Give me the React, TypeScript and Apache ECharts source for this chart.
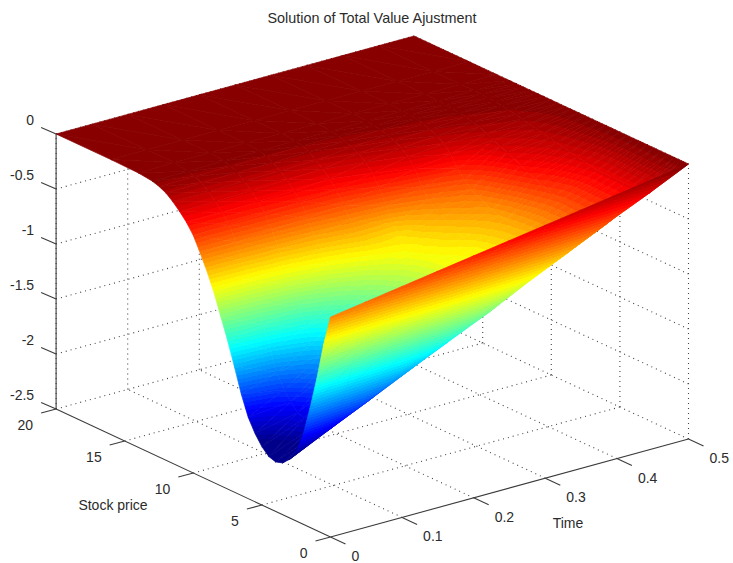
import React, { useEffect, useRef } from "react";
import * as echarts from "echarts";

const titleText = "Solution of Total Value Ajustment";
const stockTicks = [0, 5, 10, 15, 20];
const timeTicks = [0, 0.1, 0.2, 0.3, 0.4, 0.5];
const valueTicks = [0, -0.5, -1, -1.5, -2, -2.5];

const stockGrid = [0, 0.25, 0.5, 0.75, 1, 1.5, 2, 2.5, 3, 3.5, 4, 4.5, 5, 5.5, 6, 6.5, 7, 7.5, 8, 8.5, 9, 9.5, 10, 10.5, 11, 11.5, 12, 12.5, 13, 14, 16, 20];
const timeGrid = [0, 0.05, 0.1, 0.15, 0.2, 0.25, 0.3, 0.35, 0.4, 0.45, 0.5];

const atT000 = [-0.5, -0.64, -0.78, -0.95, -1.12, -1.42, -1.69, -1.87, -1.97, -2.03, -2.05, -2.03, -1.97, -1.88, -1.76, -1.58, -1.36, -1.15, -0.96, -0.77, -0.61, -0.47, -0.34, -0.25, -0.18, -0.12, -0.07, -0.04, -0.02, -0.005, 0, 0];
const atT005 = [-0.45, -0.59, -0.74, -0.91, -1.07, -1.36, -1.59, -1.74, -1.81, -1.84, -1.83, -1.77, -1.75, -1.68, -1.6, -1.47, -1.3, -1.1, -0.92, -0.75, -0.6, -0.46, -0.33, -0.25, -0.18, -0.12, -0.07, -0.04, -0.02, 0, 0, 0];
const atT010 = [-0.4, -0.54, -0.69, -0.86, -1.02, -1.3, -1.5, -1.59, -1.63, -1.63, -1.58, -1.5, -1.45, -1.42, -1.38, -1.29, -1.18, -1.02, -0.85, -0.71, -0.58, -0.44, -0.32, -0.24, -0.17, -0.11, -0.06, -0.035, -0.015, 0, 0, 0];
const atT015 = [-0.35, -0.49, -0.65, -0.81, -0.97, -1.22, -1.36, -1.42, -1.43, -1.38, -1.28, -1.25, -1.2, -1.16, -1.12, -1.05, -0.96, -0.86, -0.75, -0.65, -0.55, -0.42, -0.3, -0.23, -0.16, -0.11, -0.06, -0.035, -0.015, 0, 0, 0];
const atT020 = [-0.3, -0.44, -0.61, -0.76, -0.91, -1.12, -1.21, -1.23, -1.18, -1.08, -1.02, -1.0, -0.97, -0.93, -0.9, -0.85, -0.8, -0.73, -0.66, -0.58, -0.5, -0.39, -0.28, -0.21, -0.15, -0.1, -0.05, -0.03, -0.01, 0, 0, 0];
const atT025 = [-0.25, -0.39, -0.56, -0.71, -0.85, -0.99, -1.03, -0.99, -0.88, -0.82, -0.78, -0.76, -0.76, -0.75, -0.74, -0.72, -0.71, -0.69, -0.67, -0.6, -0.46, -0.32, -0.22, -0.15, -0.1, -0.07, -0.045, -0.025, -0.01, 0, 0, 0];
const atT030 = [-0.2, -0.35, -0.51, -0.65, -0.75, -0.82, -0.79, -0.75, -0.73, -0.72, -0.72, -0.72, -0.71, -0.69, -0.66, -0.63, -0.6, -0.56, -0.52, -0.46, -0.38, -0.24, -0.16, -0.11, -0.07, -0.05, -0.03, -0.02, -0.01, 0, 0, 0];
const atT035 = [-0.15, -0.3, -0.45, -0.56, -0.6, -0.59, -0.58, -0.58, -0.58, -0.58, -0.58, -0.575, -0.57, -0.56, -0.55, -0.53, -0.5, -0.47, -0.43, -0.37, -0.3, -0.2, -0.13, -0.09, -0.06, -0.04, -0.02, -0.015, -0.005, 0, 0, 0];
const atT040 = [-0.1, -0.25, -0.37, -0.41, -0.39, -0.38, -0.38, -0.38, -0.38, -0.38, -0.38, -0.37, -0.35, -0.33, -0.3, -0.27, -0.24, -0.21, -0.18, -0.155, -0.13, -0.1, -0.07, -0.05, -0.035, -0.025, -0.015, -0.01, 0, 0, 0, 0];
const atT045 = [-0.05, -0.19, -0.2, -0.2, -0.2, -0.2, -0.2, -0.2, -0.2, -0.2, -0.2, -0.19, -0.18, -0.165, -0.15, -0.135, -0.125, -0.11, -0.1, -0.085, -0.07, -0.055, -0.04, -0.03, -0.02, -0.015, -0.01, -0.005, 0, 0, 0, 0];
const atT050 = [0, 0, 0, 0, 0, 0, 0, 0, 0, 0, 0, 0, 0, 0, 0, 0, 0, 0, 0, 0, 0, 0, 0, 0, 0, 0, 0, 0, 0, 0, 0, 0];
const surfaceRows = [atT000, atT005, atT010, atT015, atT020, atT025, atT030, atT035, atT040, atT045, atT050];

const FONT = '14px "Liberation Sans", Arial, sans-serif';
const INK = "#2b2b2b";
const COLOR_MIN = -1.95;
const COLOR_MAX = 0;
const LEVELS = 64;

function project(s: number, t: number, z: number): [number, number] {
  return [330.5 - 13.72 * s + 716 * t, 537 - 6.4 * s - 196 * t - 110 * (z + 2.5)];
}

const jetKnots: [number, number, number, number][] = [
  [0, 0, 0, 130],
  [0.125, 0, 0, 255],
  [0.375, 0, 255, 255],
  [0.625, 255, 255, 0],
  [0.875, 255, 0, 0],
  [1, 128, 0, 0],
];
function jet(u: number): string {
  const v = Math.max(0, Math.min(1, u));
  for (let i = 1; i < jetKnots.length; i++) {
    const a = jetKnots[i - 1];
    const b = jetKnots[i];
    if (v <= b[0]) {
      const f = (v - a[0]) / (b[0] - a[0]);
      return `rgb(${Math.round(a[1] + (b[1] - a[1]) * f)},${Math.round(a[2] + (b[2] - a[2]) * f)},${Math.round(a[3] + (b[3] - a[3]) * f)})`;
    }
  }
  return "rgb(128,0,0)";
}
const norm = (z: number) => Math.max(0, Math.min(1, (z - COLOR_MIN) / (COLOR_MAX - COLOR_MIN)));
const levelOf = (u: number) => Math.min(LEVELS - 1, Math.floor(u * LEVELS));
const levelColor = (k: number) => jet((k + 0.5) / LEVELS);

function triangleFill(p: number[][], z: number[]): any {
  const zMin = Math.min(z[0], z[1], z[2]);
  const zMax = Math.max(z[0], z[1], z[2]);
  const uMin = norm(zMin);
  const uMax = norm(zMax);
  const dx1 = p[1][0] - p[0][0];
  const dy1 = p[1][1] - p[0][1];
  const dx2 = p[2][0] - p[0][0];
  const dy2 = p[2][1] - p[0][1];
  const det = dx1 * dy2 - dx2 * dy1;
  const lo = levelOf(uMin);
  const hi = levelOf(uMax);
  if (Math.abs(det) < 1e-6 || zMax - zMin < 1e-4 || lo === hi) return levelColor(levelOf(norm((z[0] + z[1] + z[2]) / 3)));
  const a = ((z[1] - z[0]) * dy2 - (z[2] - z[0]) * dy1) / det;
  const b = (dx1 * (z[2] - z[0]) - dx2 * (z[1] - z[0])) / det;
  const g2 = a * a + b * b;
  const x0 = p[0][0] + (a * (zMin - z[0])) / g2;
  const y0 = p[0][1] + (b * (zMin - z[0])) / g2;
  const x1 = p[0][0] + (a * (zMax - z[0])) / g2;
  const y1 = p[0][1] + (b * (zMax - z[0])) / g2;
  const toZ = (u: number) => COLOR_MIN + u * (COLOR_MAX - COLOR_MIN);
  const range = zMax - zMin;
  const stops: { offset: number; color: string }[] = [];
  for (let k = lo; k <= hi; k++) {
    const from = k === lo ? 0 : Math.max(0, (toZ(k / LEVELS) - zMin) / range);
    const to = k === hi ? 1 : Math.min(1, (toZ((k + 1) / LEVELS) - zMin) / range);
    const color = levelColor(k);
    stops.push({ offset: from, color });
    stops.push({ offset: to, color });
  }
  return new echarts.graphic.LinearGradient(x0, y0, x1, y1, stops, true);
}

type P3 = [number, number, number];
const FLOOR = -2.5;
const TOP = 0;
const SMAX = 20;
const TMAX = 0.5;

function gridSegments(): [P3, P3][] {
  const out: [P3, P3][] = [];
  for (const s of stockTicks) {
    if (s > 0) out.push([[s, 0, FLOOR], [s, TMAX, FLOOR]]);
    out.push([[s, TMAX, FLOOR], [s, TMAX, TOP]]);
  }
  for (const t of timeTicks) {
    if (t > 0) out.push([[0, t, FLOOR], [SMAX, t, FLOOR]]);
    out.push([[SMAX, t, FLOOR], [SMAX, t, TOP]]);
  }
  for (const z of valueTicks) {
    if (z === FLOOR) continue;
    out.push([[SMAX, 0, z], [SMAX, TMAX, z]]);
    out.push([[0, TMAX, z], [SMAX, TMAX, z]]);
  }
  return out;
}

function axisSegments(): [P3, P3][] {
  return [
    [[SMAX, 0, FLOOR], [SMAX, 0, TOP]],
    [[0, 0, FLOOR], [SMAX, 0, FLOOR]],
    [[0, 0, FLOOR], [0, TMAX, FLOOR]],
  ];
}

function triangles(): number[][] {
  const out: number[][] = [];
  for (let i = stockGrid.length - 2; i >= 0; i--) {
    for (let j = timeGrid.length - 2; j >= 0; j--) {
      out.push([i, j, 0]);
      out.push([i, j, 1]);
    }
  }
  return out;
}

type Tick = { text: string; x: number; y: number; dx: number; dy: number; align: string };
function tickItems(): Tick[] {
  const out: Tick[] = [];
  for (const z of valueTicks) {
    const [x, y] = project(SMAX, 0, z);
    out.push({ text: String(z), x, y, dx: -22, dy: -14, align: "right" });
  }
  for (const s of stockTicks) {
    const [x, y] = project(s, 0, FLOOR);
    out.push({ text: String(s), x, y, dx: -23, dy: 16, align: "right" });
  }
  for (const t of timeTicks) {
    const [x, y] = project(0, t, FLOOR);
    out.push({ text: String(t), x, y, dx: 21, dy: 19, align: "left" });
  }
  return out;
}

export default function App() {
  const ref = useRef<HTMLDivElement>(null);
  useEffect(() => {
    const chart = echarts.init(ref.current!, undefined, { renderer: "svg" });
    const grid = gridSegments();
    const axes = axisSegments();
    const ticks = tickItems();
    const tris = triangles();
    const segmentOf = (api: any, seg: [P3, P3]) => {
      const a = api.coord(project(seg[0][0], seg[0][1], seg[0][2]));
      const b = api.coord(project(seg[1][0], seg[1][1], seg[1][2]));
      return { x1: a[0], y1: a[1], x2: b[0], y2: b[1] };
    };
    chart.setOption({
      animation: false,
      backgroundColor: "#ffffff",
      grid: { left: 0, right: 0, top: 0, bottom: 0 },
      xAxis: { type: "value", min: 0, max: 733, show: false },
      yAxis: { type: "value", min: 0, max: 563, inverse: true, show: false },
      graphic: [
        { type: "text", x: 372, y: 18, style: { text: titleText, font: '14.4px "Liberation Sans", Arial, sans-serif', fill: INK, textAlign: "center", textVerticalAlign: "middle" } },
        { type: "text", x: 113, y: 505, style: { text: "Stock price", font: FONT, fill: INK, textAlign: "center", textVerticalAlign: "middle" } },
        { type: "text", x: 568, y: 523, style: { text: "Time", font: FONT, fill: INK, textAlign: "center", textVerticalAlign: "middle" } },
      ],
      series: [
        {
          type: "custom",
          name: "grid",
          z: 1,
          silent: true,
          clip: false,
          data: grid.map((_, i) => [i, 0]),
          encode: { x: 0, y: 1 },
          renderItem: (params: any, api: any) => ({
            type: "line",
            shape: segmentOf(api, grid[params.dataIndex]),
            style: { stroke: "#444444", lineWidth: 1.1, lineDash: [1, 4], fill: "none" },
          }),
        },
        {
          type: "custom",
          name: "Total Value Adjustment",
          z: 2,
          silent: true,
          clip: false,
          data: tris,
          encode: { x: 0, y: 1 },
          renderItem: (params: any, api: any) => {
            const [i, j, part] = tris[params.dataIndex];
            const corners =
              part === 0
                ? [[i + 1, j], [i + 1, j + 1], [i, j + 1]]
                : [[i + 1, j], [i, j + 1], [i, j]];
            const z = corners.map(([a, b]) => surfaceRows[b][a]);
            const p = corners.map(([a, b], k) => api.coord(project(stockGrid[a], timeGrid[b], z[k])));
            const fill = triangleFill(p, z);
            return {
              type: "polygon",
              shape: { points: p },
              style: { fill, stroke: fill, lineWidth: 0.7, lineJoin: "round" },
            };
          },
        },
        {
          type: "custom",
          name: "axes",
          z: 3,
          silent: true,
          clip: false,
          data: axes.map((_, i) => [i, 0]),
          encode: { x: 0, y: 1 },
          renderItem: (params: any, api: any) => ({
            type: "line",
            shape: segmentOf(api, axes[params.dataIndex]),
            style: { stroke: "#3c3c3c", lineWidth: 1.1, fill: "none" },
          }),
        },
        {
          type: "custom",
          name: "tick marks",
          z: 3,
          silent: true,
          clip: false,
          data: ticks.map((_, i) => [i, 0]),
          encode: { x: 0, y: 1 },
          renderItem: (params: any) => {
            const k = ticks[params.dataIndex];
            const vec = k.align === "left" ? [15, 7] : k.dy < 0 ? [-15, -6.5] : [-15, 4];
            return {
              type: "line",
              shape: { x1: k.x, y1: k.y, x2: k.x + vec[0], y2: k.y + vec[1] },
              style: { stroke: "#3c3c3c", lineWidth: 1.1, fill: "none" },
            };
          },
        },
        {
          type: "custom",
          name: "tick labels",
          z: 3,
          silent: true,
          clip: false,
          data: ticks.map((_, i) => [i, 0]),
          encode: { x: 0, y: 1 },
          renderItem: (params: any) => {
            const k = ticks[params.dataIndex];
            return {
              type: "text",
              style: {
                text: k.text,
                x: k.x + k.dx,
                y: k.y + k.dy,
                font: FONT,
                fill: INK,
                textAlign: k.align,
                textVerticalAlign: "middle",
              },
            };
          },
        },
      ],
    });
    return () => chart.dispose();
  }, []);
  return <div ref={ref} style={{ position: "absolute", left: 0, top: 0, width: 733, height: 563 }} />;
}
